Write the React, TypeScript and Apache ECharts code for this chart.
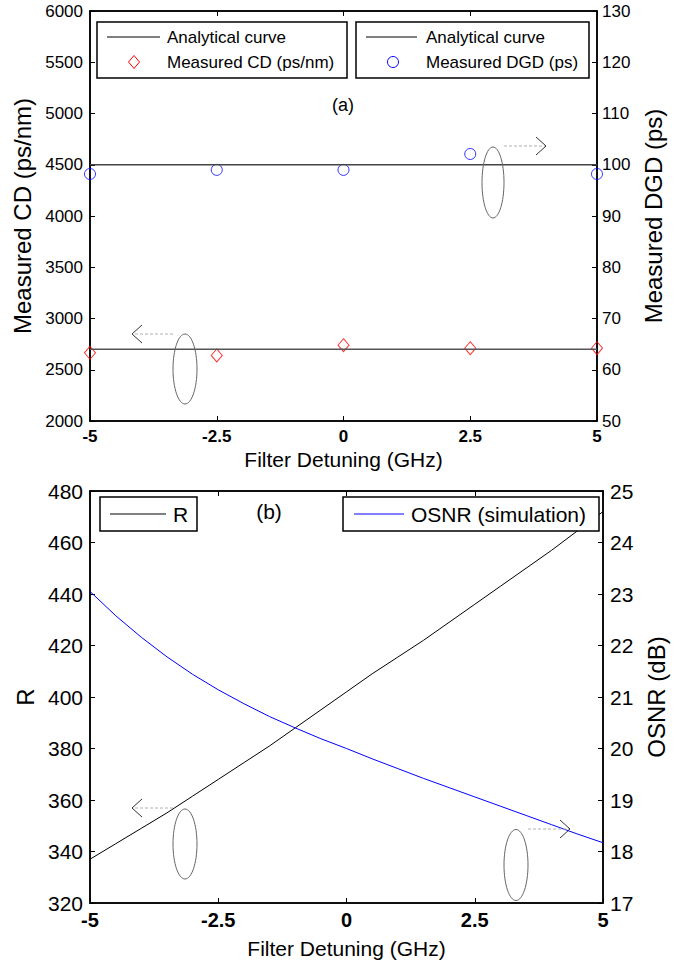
import React, { useEffect, useRef } from "react";
import * as echarts from "echarts";

// ---------- data ----------
const detuningMeasured = [-5, -2.5, 0, 2.5, 5];
const cdMeasured = [2665, 2640, 2740, 2710, 2710];
const dgdMeasured = [98.2, 99.0, 99.0, 102.1, 98.2];
const cdAnalytical = 2700;
const dgdAnalytical = 100;

const simDetuning = [-5, -4.5, -4, -3.5, -3, -2.5, -2, -1.5, -1, -0.5, 0, 0.5, 1, 1.5, 2, 2.5, 3, 3.5, 4, 4.5, 5];
const rValues = [337, 343, 349, 355, 361.5, 368, 374.5, 381, 388, 395, 402, 409, 415.5, 422, 429, 436, 443, 450, 457, 464.5, 472];
const osnrValues = [23.05, 22.58, 22.16, 21.78, 21.44, 21.14, 20.87, 20.62, 20.4, 20.19, 20.0, 19.8, 19.61, 19.42, 19.24, 19.06, 18.88, 18.7, 18.52, 18.34, 18.17];

const xRange = { min: -5, max: 5, interval: 2.5 };
const cdRange = { min: 2000, max: 6000, interval: 500 };
const dgdRange = { min: 50, max: 130, interval: 10 };
const rRange = { min: 320, max: 480, interval: 20 };
const osnrRange = { min: 17, max: 25, interval: 1 };

const FONT = "'Liberation Sans', Arial, Helvetica, sans-serif";
const plain = (v: number) => String(v);

function xAxisDef(gridIndex: number, top: boolean, labelSize: number, name: string, nameGap: number) {
  return {
    gridIndex,
    type: "value",
    ...xRange,
    position: top ? "top" : "bottom",
    axisLine: { show: true, onZero: false, lineStyle: { color: "#000", width: 1.5 } },
    axisTick: { show: true, inside: true, length: 5, lineStyle: { color: "#000", width: 1 } },
    axisLabel: top
      ? { show: false }
      : { show: true, margin: 7, color: "#000", fontSize: labelSize, fontWeight: "bold", fontFamily: FONT, showMinLabel: true, showMaxLabel: true, formatter: plain },
    splitLine: { show: false },
    name: top ? "" : name,
    nameLocation: "middle",
    nameGap,
    nameTextStyle: { color: "#000", fontSize: 21, fontFamily: FONT },
  };
}

function yAxisDef(gridIndex: number, right: boolean, range: any, labelSize: number, name: string, nameGap: number, margin: number) {
  return {
    gridIndex,
    type: "value",
    ...range,
    position: right ? "right" : "left",
    axisLine: { show: true, onZero: false, lineStyle: { color: "#000", width: 1.5 } },
    axisTick: { show: true, inside: true, length: 5, lineStyle: { color: "#000", width: 1 } },
    axisLabel: { show: true, margin, color: "#000", fontSize: labelSize, fontFamily: FONT, showMinLabel: true, showMaxLabel: true, formatter: plain },
    splitLine: { show: false },
    name,
    nameLocation: "middle",
    nameRotate: 90,
    nameGap,
    nameTextStyle: { color: "#000", fontSize: 24, fontFamily: FONT },
  };
}

function ellipse(cx: number, cy: number, rx: number, ry: number) {
  return { type: "ellipse", shape: { cx, cy, rx, ry }, style: { fill: "none", stroke: "#666", lineWidth: 1 }, z: 10 };
}
function arrow(x1: number, x2: number, y: number) {
  const dir = x2 > x1 ? -1 : 1;
  return [
    { type: "line", shape: { x1, y1: y, x2, y2: y }, style: { stroke: "#b0b0b0", lineWidth: 1, lineDash: [3, 2] }, z: 10 },
    { type: "polyline", shape: { points: [[x2 + dir * 10, y - 9], [x2, y], [x2 + dir * 10, y + 9]] }, style: { fill: "none", stroke: "#333", lineWidth: 1 }, z: 10 },
  ];
}
function box(x: number, y: number, w: number, h: number) {
  return { type: "rect", shape: { x, y, width: w, height: h }, style: { fill: "#fff", stroke: "#000", lineWidth: 1.5 }, z: 20 };
}
function txt(x: number, y: number, text: string, size: number, align = "left") {
  return { type: "text", x, y, style: { text, fontSize: size, fontFamily: FONT, fill: "#000", align, verticalAlign: "middle" }, z: 21 };
}
function hline(x1: number, x2: number, y: number, color: string) {
  return { type: "line", shape: { x1, y1: y, x2, y2: y }, style: { stroke: color, lineWidth: 1 }, z: 21 };
}

export default function App() {
  const ref = useRef<HTMLDivElement>(null);
  useEffect(() => {
    if (!ref.current) return;
    const chart = echarts.init(ref.current, undefined, { renderer: "svg" });
    const option: any = {
      animation: false,
      backgroundColor: "#fff",
      grid: [
        { left: 90, top: 11, width: 507, height: 410, show: true, borderColor: "#000", borderWidth: 1.5, backgroundColor: "#fff" },
        { left: 90, top: 491, width: 513, height: 412, show: true, borderColor: "#000", borderWidth: 1.5, backgroundColor: "#fff" },
      ],
      xAxis: [
        xAxisDef(0, false, 17, "Filter Detuning (GHz)", 28),
        xAxisDef(0, true, 17, "", 0),
        xAxisDef(1, false, 20, "Filter Detuning (GHz)", 35),
        xAxisDef(1, true, 20, "", 0),
      ],
      yAxis: [
        yAxisDef(0, false, cdRange, 17, "Measured CD (ps/nm)", 48, 7),
        yAxisDef(0, true, dgdRange, 17, "Measured DGD (ps)", 41, 5),
        yAxisDef(1, false, rRange, 21, "R", 48, 7),
        yAxisDef(1, true, osnrRange, 21, "OSNR (dB)", 35, 7),
      ],
      series: [
        {
          name: "Analytical curve (CD)", type: "line", xAxisIndex: 0, yAxisIndex: 0, symbol: "none",
          lineStyle: { color: "#555", width: 1.5 },
          data: [[xRange.min, cdAnalytical], [xRange.max, cdAnalytical]],
        },
        {
          name: "Measured CD (ps/nm)", type: "scatter", xAxisIndex: 0, yAxisIndex: 0, symbol: "diamond", symbolSize: [11, 13],
          itemStyle: { color: "rgba(0,0,0,0)", borderColor: "#ff0000", borderWidth: 1 },
          data: detuningMeasured.map((x, i) => [x, cdMeasured[i]]),
        },
        {
          name: "Analytical curve (DGD)", type: "line", xAxisIndex: 0, yAxisIndex: 1, symbol: "none",
          lineStyle: { color: "#444", width: 1.5 },
          data: [[xRange.min, dgdAnalytical], [xRange.max, dgdAnalytical]],
        },
        {
          name: "Measured DGD (ps)", type: "scatter", xAxisIndex: 0, yAxisIndex: 1, symbol: "circle", symbolSize: 11,
          itemStyle: { color: "rgba(0,0,0,0)", borderColor: "#0000ff", borderWidth: 1 },
          data: detuningMeasured.map((x, i) => [x, dgdMeasured[i]]),
        },
        {
          name: "R", type: "line", xAxisIndex: 2, yAxisIndex: 2, symbol: "none",
          lineStyle: { color: "#000", width: 1 },
          data: simDetuning.map((x, i) => [x, rValues[i]]),
        },
        {
          name: "OSNR (simulation)", type: "line", xAxisIndex: 2, yAxisIndex: 3, symbol: "none",
          lineStyle: { color: "#0000ff", width: 1 },
          data: simDetuning.map((x, i) => [x, osnrValues[i]]),
        },
      ],
      graphic: [
        // top legends
        box(97, 22, 250, 56),
        hline(107, 160, 37, "#000"),
        txt(167, 37, "Analytical curve", 17),
        { type: "polygon", shape: { points: [[134, 55.5], [139.5, 62], [134, 68.5], [128.5, 62]] }, style: { fill: "none", stroke: "#ff0000", lineWidth: 1 }, z: 21 },
        txt(167, 62, "Measured CD (ps/nm)", 17),
        box(356, 22, 233, 56),
        hline(366, 417, 37, "#000"),
        txt(426, 37, "Analytical curve", 17),
        { type: "circle", shape: { cx: 393, cy: 62, r: 5.5 }, style: { fill: "none", stroke: "#0000ff", lineWidth: 1 }, z: 21 },
        txt(426, 62, "Measured DGD (ps)", 17),
        txt(343, 105, "(a)", 18, "center"),
        // top annotations
        ellipse(493, 182.5, 11, 35.5),
        ...arrow(504, 546, 146),
        ellipse(185, 369, 12, 35),
        ...arrow(173, 132, 334),
        // bottom legends
        box(100, 497, 97, 34),
        hline(110, 166, 514, "#000"),
        txt(173, 514, "R", 21),
        box(343, 497, 256, 34),
        hline(354, 404, 514, "#0000ff"),
        txt(411, 514, "OSNR (simulation)", 21),
        txt(269, 511, "(b)", 21, "center"),
        // bottom annotations
        ellipse(185, 844, 12, 35),
        ...arrow(173, 132, 808),
        ellipse(516, 865, 12, 35.5),
        ...arrow(528, 570, 829),
      ],
    };
    chart.setOption(option);
    return () => chart.dispose();
  }, []);
  return (
    <div
      ref={ref}
      style={{ position: "absolute", left: 0, top: 0, width: 688, height: 965, background: "#fff" }}
    />
  );
}
